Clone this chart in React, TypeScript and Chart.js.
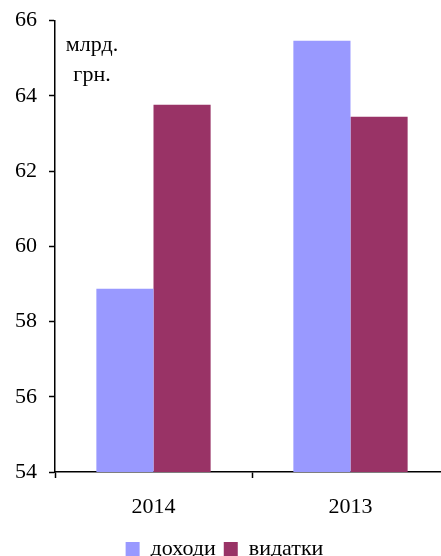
import React, { useEffect, useRef } from "react";
import { Chart, registerables } from "chart.js";

Chart.register(...registerables);

const categories = ["2014", "2013"];
const incomeLabel = "доходи";
const expenseLabel = "видатки";
const incomeValues = [58.87, 65.46];
const expenseValues = [63.76, 63.44];
const unitLines = ["млрд.", "грн."];
const yMin = 54;
const yMax = 66;
const yStep = 2;

const FONT = "'Liberation Serif', 'Times New Roman', serif";
const SIZE = 22;

const unitPlugin = {
  id: "unitLabel",
  afterDraw(chart: any) {
    const { ctx, chartArea } = chart;
    ctx.save();
    ctx.font = `${SIZE}px ${FONT}`;
    ctx.fillStyle = "#000";
    ctx.textAlign = "center";
    ctx.textBaseline = "middle";
    const cx = chartArea.left + 37;
    ctx.fillText(unitLines[0], cx, chartArea.top + 25);
    ctx.fillText(unitLines[1], cx, chartArea.top + 55);
    ctx.restore();
  },
};

export default function App() {
  const ref = useRef<HTMLCanvasElement | null>(null);
  useEffect(() => {
    document.body.style.margin = "0";
    const chart = new Chart(ref.current!, {
      type: "bar",
      data: {
        labels: categories,
        datasets: [
          {
            label: incomeLabel,
            data: incomeValues,
            backgroundColor: "#9999FF",
            borderWidth: 0,
            barPercentage: 1,
            categoryPercentage: 0.58,
          },
          {
            label: expenseLabel,
            data: expenseValues,
            backgroundColor: "#993366",
            borderWidth: 0,
            barPercentage: 1,
            categoryPercentage: 0.58,
          },
        ],
      },
      options: {
        animation: false,
        responsive: false,
        devicePixelRatio: 1,
        layout: { padding: { top: 20.5, right: 3, left: 0, bottom: 0 } },
        plugins: {
          tooltip: { enabled: false },
          legend: {
            position: "bottom",
            labels: {
              boxWidth: 14,
              boxHeight: 14,
              color: "#000",
              font: { family: FONT, size: SIZE },
              padding: 8,
            },
          },
        },
        scales: {
          x: {
            grid: {
              offset: true,
              drawOnChartArea: false,
              tickLength: 6,
              color: "#000",
              tickWidth: 1.5,
            },
            border: { color: "#000", width: 1.5 },
            ticks: {
              color: "#000",
              font: { family: FONT, size: SIZE },
              padding: 16,
            },
            afterFit(scale: any) {
              scale.height = 58;
            },
          },
          y: {
            min: yMin,
            max: yMax,
            grid: {
              drawOnChartArea: false,
              tickLength: 6,
              color: "#000",
              tickWidth: 1.5,
            },
            border: { color: "#000", width: 1.5 },
            ticks: {
              stepSize: yStep,
              color: "#000",
              font: { family: FONT, size: SIZE },
              padding: 12,
            },
            afterFit(scale: any) {
              scale.width = 55;
              scale.paddingTop = 0;
              scale.paddingBottom = 0;
            },
          },
        },
      },
      plugins: [unitPlugin],
    });
    return () => chart.destroy();
  }, []);
  return (
    <div
      style={{
        position: "fixed",
        left: 0,
        top: 0,
        width: 441,
        height: 556,
        overflow: "hidden",
        background: "#fff",
      }}
    >
      <canvas ref={ref} width={452} height={570} style={{ width: 452, height: 570 }} />
    </div>
  );
}
